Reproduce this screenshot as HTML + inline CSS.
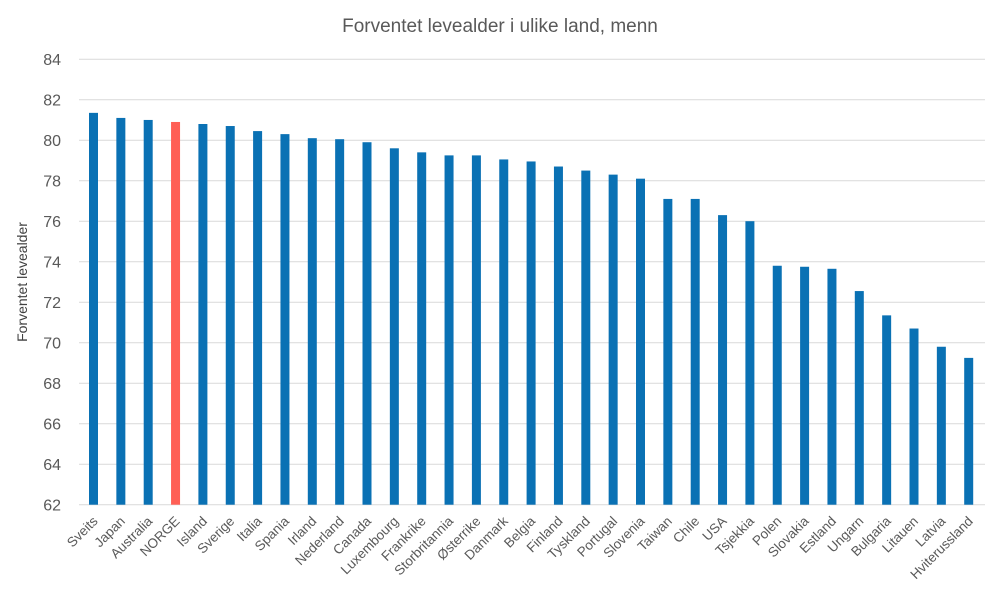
<!DOCTYPE html>
<html><head><meta charset="utf-8"><style>body{margin:0;background:#fff}svg{display:block}</style></head>
<body>
<svg width="1000" height="600" xmlns="http://www.w3.org/2000/svg" font-family="'Liberation Sans', sans-serif">
<rect width="1000" height="600" fill="#fff"/>
<text x="500" y="32" text-anchor="middle" font-size="19" fill="#595959">Forventet levealder i ulike land, menn</text>
<text transform="translate(27,282) rotate(-90)" text-anchor="middle" font-size="14" fill="#404040">Forventet levealder</text>
<g id="grid" stroke="#d9d9d9" stroke-width="1"></g>
<g id="yl" font-size="16" fill="#595959" text-anchor="end"></g>
<g id="bars"></g>
<g id="xl" font-size="13.5" fill="#595959" text-anchor="end"></g>
<script>
var ns="http://www.w3.org/2000/svg";
function y(v){return 504.7-(v-62)*20.25;}
var g=document.getElementById('grid'),yl=document.getElementById('yl');
for(var v=62;v<=84;v+=2){var l=document.createElementNS(ns,'line');l.setAttribute('x1',79);l.setAttribute('x2',985);l.setAttribute('y1',y(v));l.setAttribute('y2',y(v));g.appendChild(l);
var t=document.createElementNS(ns,'text');t.setAttribute('x',61);t.setAttribute('y',y(v)+6);t.textContent=v;yl.appendChild(t);}
var d=[["Sveits",81.35],["Japan",81.1],["Australia",81.0],["NORGE",80.9],["Island",80.8],["Sverige",80.7],["Italia",80.45],["Spania",80.3],["Irland",80.1],["Nederland",80.05],["Canada",79.9],["Luxembourg",79.6],["Frankrike",79.4],["Storbritannia",79.25],["Østerrike",79.25],["Danmark",79.05],["Belgia",78.95],["Finland",78.7],["Tyskland",78.5],["Portugal",78.3],["Slovenia",78.1],["Taiwan",77.1],["Chile",77.1],["USA",76.3],["Tsjekkia",76.0],["Polen",73.8],["Slovakia",73.75],["Estland",73.65],["Ungarn",72.55],["Bulgaria",71.35],["Litauen",70.7],["Latvia",69.8],["Hviterussland",69.25]];
var b=document.getElementById('bars'),xl=document.getElementById('xl');
d.forEach(function(e,i){var c=93.5+i*27.35;var r=document.createElementNS(ns,'rect');r.setAttribute('x',c-4.5);r.setAttribute('width',9);r.setAttribute('y',y(e[1]));r.setAttribute('height',504.7-y(e[1]));r.setAttribute('fill',e[0]=="NORGE"?"#ff5f55":"#0a71b4");b.appendChild(r);
var t=document.createElementNS(ns,'text');t.setAttribute('transform','translate('+(c+5)+',522) rotate(-45)');t.textContent=e[0];xl.appendChild(t);});
</script>
</svg>
</body></html>
